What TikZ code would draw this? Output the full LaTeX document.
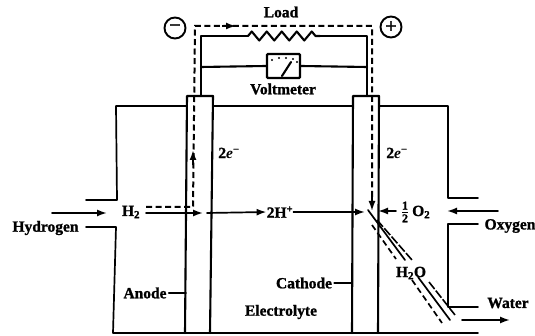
\documentclass[tikz,border=0pt]{standalone}
\usepackage{fontspec}
\setmainfont[BoldFeatures={FakeBold=1.2}]{Liberation Serif}
\usetikzlibrary{arrows.meta,decorations.pathmorphing}
\tikzset{
  wire/.style={line width=1.7pt,line cap=round,line join=round},
  thick wire/.style={line width=2.1pt,line cap=round,line join=round},
  dash flow/.style={line width=2pt,dash pattern=on 6pt off 3.5pt},
  tip/.style={-{Latex[length=10pt,width=7pt]}},
  lab/.style={font=\fontsize{15.5}{17}\selectfont\bfseries,inner sep=0pt},
  sign/.style={circle,draw,line width=1.9pt,minimum size=21pt,inner sep=0pt,font=\fontsize{20}{20}\selectfont\bfseries}
}
\begin{document}
\begin{tikzpicture}[x=1pt,y=-1pt]
\useasboundingbox (0,0) rectangle (535,336);
% casing points
\coordinate (lt) at (116,106); \coordinate (lu) at (117,200); \coordinate (lup) at (86,200);
\coordinate (llp) at (86,227); \coordinate (ll) at (116,227); \coordinate (lb) at (113,333);
\coordinate (rb) at (478,333);
\coordinate (rt) at (448,106); \coordinate (ru) at (448,198); \coordinate (rup) at (478,198);
\coordinate (rlp) at (478,224); \coordinate (rl) at (448,224); \coordinate (rw) at (448,307); \coordinate (rwp) at (478,307);
% electrodes
\coordinate (a1) at (185,333); \coordinate (a2) at (187,96); \coordinate (a3) at (213,96); \coordinate (a4) at (210,333);
\coordinate (c1) at (352,333); \coordinate (c2) at (353,96); \coordinate (c3) at (379,96); \coordinate (c4) at (378,333);
\coordinate (at) at (187,106); \coordinate (atr) at (213,106); \coordinate (ct) at (353,106); \coordinate (ctr) at (379,106);
\draw[wire] (lup) -- (lu) -- (lt) -- (at);
\draw[wire] (atr) -- (ct);
\draw[wire] (ctr) -- (rt) -- (ru) -- (rup);
\draw[wire] (llp) -- (ll) -- (lb) -- (rb);
\draw[wire] (rlp) -- (rl) -- (rw) -- (rwp);
\draw[thick wire] (a1) -- (a2) -- (a3) -- (a4);
\draw[thick wire] (c1) -- (c2) -- (c3) -- (c4);
% external circuit
\node[sign] (minus) at (175,28) {−};
\node[sign] (plus) at (391,27) {+};
\node[lab] (load) at (281,12) {Load};
\node[draw,line width=2.2pt,rounded corners=1pt,minimum width=33pt,minimum height=24pt,inner sep=0pt] (meter) at (283.5,66) {};
\node[lab] (vm) at (283,89) {Voltmeter};
\coordinate (s1) at (201,96); \coordinate (s2) at (201,36); \coordinate (r1) at (248,36);
\coordinate (r2) at (320,36); \coordinate (s3) at (367,36); \coordinate (s4) at (367,96);
\coordinate (m1) at (201,67); \coordinate (m2) at (367,67);
\draw[thick wire] (s1) -- (s2) -- (r1);
\draw[thick wire] (r2) -- (s3) -- (s4);
\draw[thick wire,decorate,decoration={zigzag,segment length=15pt,amplitude=4.5pt}] (r1) -- (r2);
\draw[thick wire] (m1) -- (meter.west);
\draw[thick wire] (meter.east) -- (m2);
\coordinate (n1) at (282,76); \coordinate (n2) at (291,62);
\draw[thick wire] (n1) -- (n2);
\foreach \a/\b in {272/60,279/58,286/58,293/59,297/62}{\fill (\a,\b) circle (1.1pt);}
% dashed current
\coordinate (d0) at (146,207); \coordinate (d1) at (193,207); \coordinate (d2) at (195,26);
\coordinate (d3) at (372,26); \coordinate (d4) at (372,210);
\coordinate (dam) at (236,26); \coordinate (up1) at (193,165); \coordinate (up2) at (193,150);
\draw[dash flow] (d0) -- (d1) -- (d2) -- (d3) -- (d4);
\draw[tip,line width=1.8pt] (222,26) -- (dam);
\draw[tip,line width=1.8pt] (up1) -- (up2);
\draw[tip,line width=1.8pt] (372,196) -- (372,211);
% labels
\node[lab] (h2) at (131,212) {H\textsubscript{2}};
\node[lab] (hyd) at (45.5,228) {Hydrogen};
\node[lab] (ion) at (280,212) {2H\textsuperscript{+}};
\node[lab] (oh) at (405,212) {\fontsize{17}{17}\selectfont$\frac{\mathbf{1}}{\mathbf{2}}$};
\node[lab,anchor=west] (o2) at (412,212) {O\textsubscript{2}};
\node[lab] (oxy) at (510,226) {Oxygen};
\node[lab] (wat) at (508,303) {Water};
\node[lab] (ano) at (145,293) {Anode};
\node[lab] (cat) at (304,283) {Cathode};
\node[lab] (ele) at (281,312) {Electrolyte};
\node[lab] (ea) at (229,153) {2\textit{e}\textsuperscript{−}};
\node[lab] (ec) at (397,153) {2\textit{e}\textsuperscript{−}};
\node[lab] (h2o) at (411,273) {H\textsubscript{2}O};
% tick leaders
\coordinate (ta) at (186,293); \coordinate (tc) at (352,283);
\draw[wire] (ano.east) ++(2,0) -- (ta);
\draw[wire] (cat.east) ++(2,0) -- (tc);
% flow arrows
\coordinate (hin) at (52,213); \coordinate (hin2) at (107,213);
\draw[wire,tip] (hin) -- (hin2);
\draw[wire,tip] (h2) ++(15,1) -- (203,213);
\draw[wire,tip] (207,213) -- (ion.west);
\draw[wire,tip] (ion.east) -- (365,212);
\draw[wire,tip] (396,211) -- (378,211);
\coordinate (oin) at (498,211); \coordinate (oin2) at (447,211);
\draw[wire,tip] (oin) -- (oin2);
\coordinate (wo) at (462,320); \coordinate (wo2) at (510,320);
\draw[wire,tip] (wo) -- (wo2);
% water diagonals
\coordinate (p1) at (368,210); \coordinate (p2) at (405,260);
\coordinate (p3) at (418,277); \coordinate (p4) at (450,320);
\coordinate (q1) at (377,220); \coordinate (q2) at (412,260);
\coordinate (q3) at (429,282); \coordinate (q4) at (455,315);
\coordinate (g1) at (372,225); \coordinate (g2) at (396,259);
\coordinate (g3) at (412,280); \coordinate (g4) at (442,323);
\draw[wire] (p1) -- (p2) (p3) -- (p4);
\draw[line width=1.6pt,dash pattern=on 9pt off 2pt] (q1) -- (q2) (q3) -- (q4);
\draw[line width=1.7pt,dash pattern=on 6pt off 3.5pt] (g1) -- (g2) (g3) -- (g4);
\end{tikzpicture}
\end{document}
